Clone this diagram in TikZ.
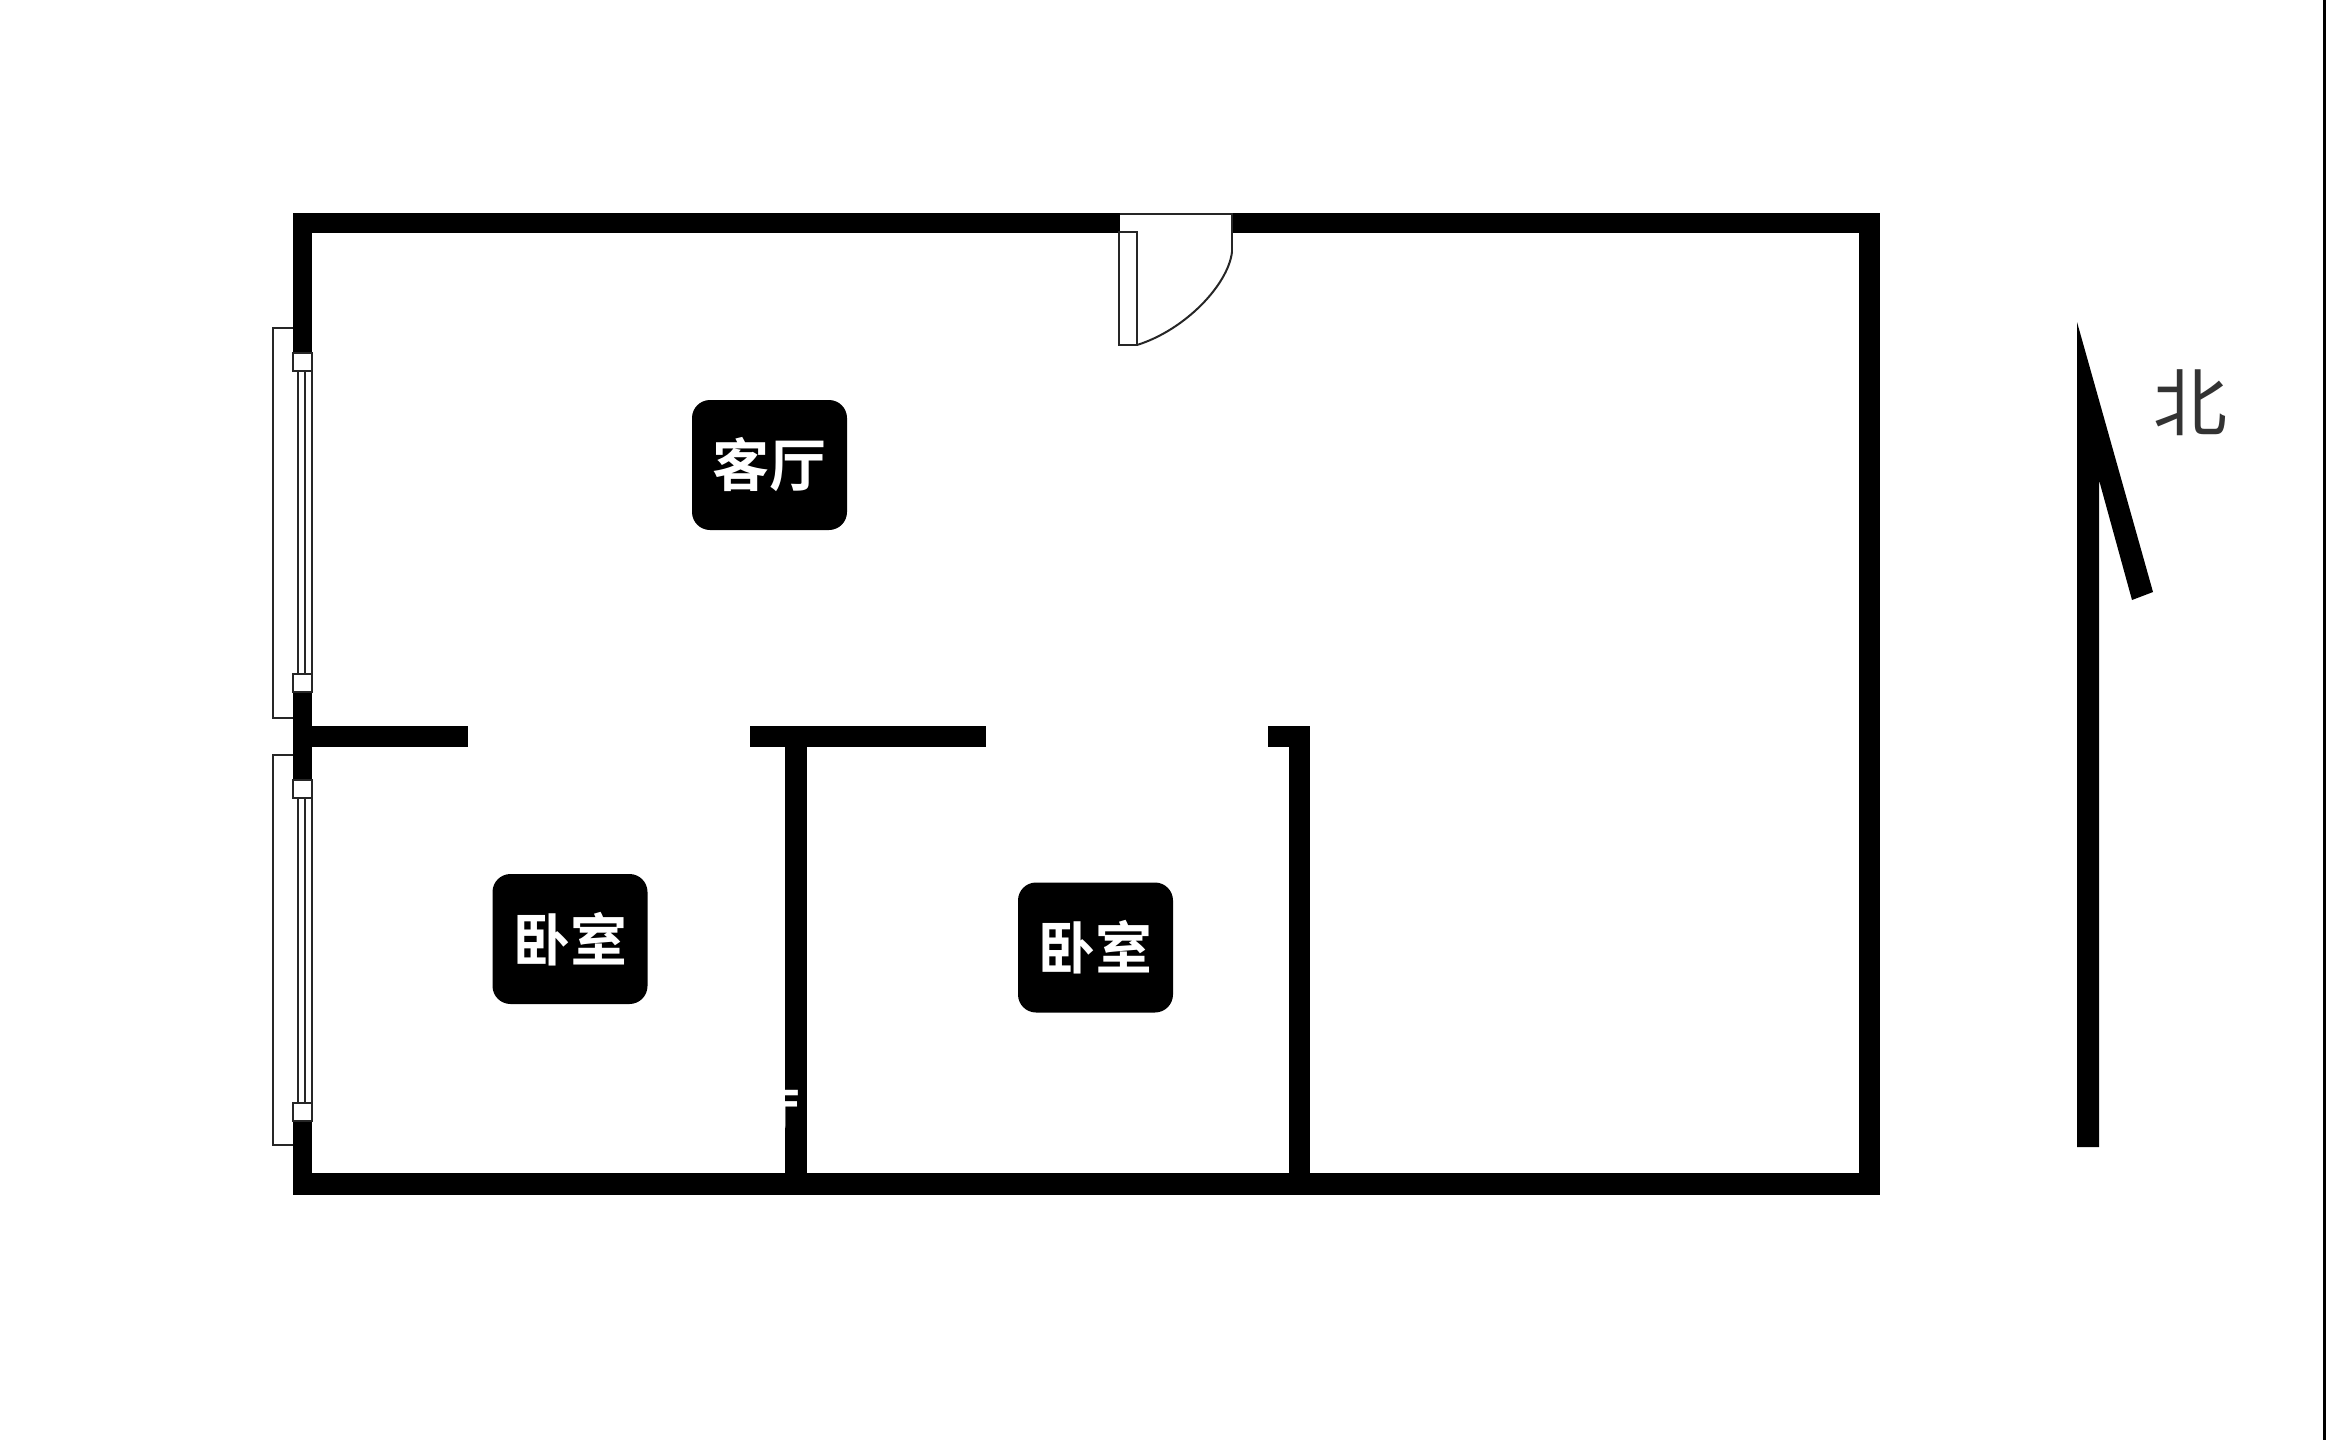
\documentclass[tikz,border=0pt]{standalone}
\usepackage{fontspec}
\newfontfamily\cjk[BoldFont={Noto Sans CJK SC Bold}]{Noto Sans CJK SC}
\tikzset{
    % Plan
    wall/.style={fill=black,draw=none},
    thin line/.style={draw=black!85,line width=1pt},
    %
    % Labels
    room label/.style={fill=black,text=white,rounded corners=9pt,inner sep=0pt,minimum width=77.5pt,minimum height=65pt,font=\cjk\bfseries\fontsize{28.5}{30}\selectfont},
    hidden label/.style={text=white,inner sep=0pt,font=\cjk\bfseries\fontsize{24}{26}\selectfont},
    compass label/.style={text=black!80,inner sep=0pt,font=\cjk\fontsize{37}{39}\selectfont},
}
\begin{document}
\begin{tikzpicture}[x=0.5pt,y=-0.5pt]
    \useasboundingbox (0,0) rectangle (2326,1440);
    % Outer walls
    \fill[wall] (293,213) rectangle (1120,233);
    \fill[wall] (1232,213) rectangle (1880,233);
    \fill[wall] (1859,213) rectangle (1880,1195);
    \fill[wall] (293,1173) rectangle (1880,1195);
    \fill[wall] (293,213) rectangle (312,353);
    \fill[wall] (293,692) rectangle (312,780);
    \fill[wall] (293,1121) rectangle (312,1195);
    % Inner walls
    \fill[wall] (312,726) rectangle (468,747);
    \fill[wall] (750,726) rectangle (986,747);
    \fill[wall] (1268,726) rectangle (1310,747);
    \fill[wall] (785,747) rectangle (807,1173);
    \fill[wall] (1289,747) rectangle (1310,1173);
    % Windows
    \foreach \ytop/\ybot/\ya/\yb in {328/718/371/674,755/1145/797/1103}{
        \draw[thin line] (293,\ytop) -- (273,\ytop) -- (273,\ybot) -- (293,\ybot);
        \foreach \xline in {298,305,312}
            \draw[thin line] (\xline,\ya) -- (\xline,\yb);
    }
    \foreach \ysq in {353,674,780,1103}
        \draw[thin line,fill=white] (293,\ysq) rectangle (312,\ysq+18);
    % Door
    \draw[thin line] (1120,214) -- (1232,214) -- (1232,252);
    \draw[thin line] (1119,232) rectangle (1137,345);
    \draw[thin line] (1232,252) .. controls (1228,285) and (1185,330) .. (1137,345);
    % Hidden text on the wall
    \node[hidden label,anchor=east] (hall hidden) at (801,1112) {厅};
    % Rooms
    \node[room label] (hall) at (769.5,465) {客厅};
    \node[room label] (bedroom west) at (570,939) {卧室};
    \node[room label] (bedroom east) at (1095.5,947.5) {卧室};
    % North arrow
    \fill (2077,322) -- (2153,592) -- (2132,600) -- (2099,480) -- (2099,1147) -- (2077,1147) -- cycle;
    \node[compass label] (north) at (2190,403) {北};
    % Image edge
    \fill (2323,0) rectangle (2326,1440);
\end{tikzpicture}
\end{document}
